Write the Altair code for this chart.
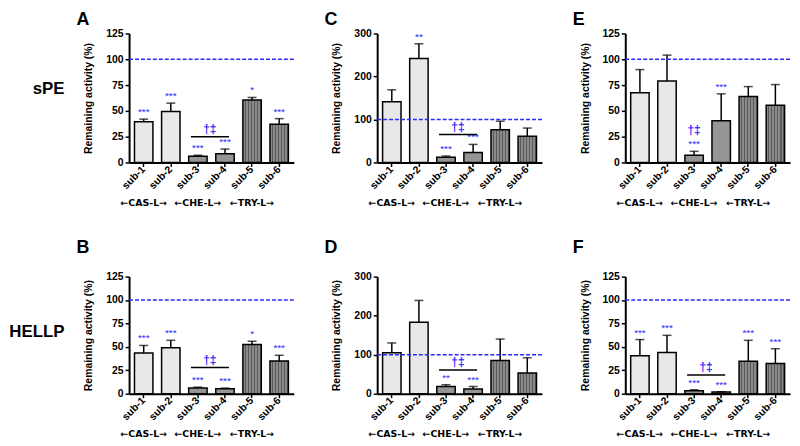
import altair as alt
import pandas as pd

# ---------------- data ----------------
SUBS = ["sub-1", "sub-2", "sub-3", "sub-4", "sub-5", "sub-6"]
GROUP_OF_SUB = ["CAS", "CAS", "CHE", "CHE", "TRY", "TRY"]
GROUP_LABELS = ["←CAS-L→", "←CHE-L→", "←TRY-L→"]
GROUP_ANCHORS = ["sub-1", "sub-3", "sub-5"]

A_MEAN = [39.5, 49.5, 6, 8.5, 60.5, 37]
A_UPPER = [42, 57.5, 7, 13, 63, 42.5]
A_STARS = ["***", "***", "***", "***", "*", "***"]

B_MEAN = [43.5, 49, 6, 5.3, 52.5, 35]
B_UPPER = [51.5, 57, 7, 6, 56, 41]
B_STARS = ["***", "***", "***", "***", "*", "***"]

C_MEAN = [141, 242, 12, 23, 76, 61]
C_UPPER = [169, 276, 15, 42, 96, 80]
C_STARS = ["", "**", "***", "***", "", ""]

D_MEAN = [105, 183, 18.5, 12, 85, 53]
D_UPPER = [130, 239, 23, 18.5, 140, 92]
D_STARS = ["", "", "**", "***", "", ""]

E_MEAN = [67.5, 79, 7, 40.5, 64, 55.5]
E_UPPER = [90, 104, 10.8, 66.5, 73.5, 75.5]
E_STARS = ["", "", "***", "***", "", ""]

F_MEAN = [40.5, 44, 3.2, 1.8, 34.7, 32.2]
F_UPPER = [57.8, 62.3, 4.2, 2.1, 57, 48]
F_STARS = ["***", "***", "***", "***", "***", "***"]

TICKS_125 = [0, 25, 50, 75, 100, 125]
TICKS_300 = [0, 100, 200, 300]
REF_LINE = [100]

BLUE = "#2b2bff"
W = 166
H_TOP = 130
H_BOT = 118

stripe_stops = []
n = 6
for i in range(n):
    stripe_stops += [
        alt.GradientStop(color="#8a8a8a", offset=i / n),
        alt.GradientStop(color="#8a8a8a", offset=(i + 0.55) / n),
        alt.GradientStop(color="#5a5a5a", offset=(i + 0.55) / n),
        alt.GradientStop(color="#5a5a5a", offset=(i + 1) / n),
    ]
STRIPES = alt.LinearGradient(gradient="linear", stops=stripe_stops, x1=0, x2=1, y1=0, y2=0)


def make_panel(letter, rowlabel, mean, upper, stars, ymax, ticks, h,
               bracket=None, dagger_on_bar=False, letter_y=-23):
    df = pd.DataFrame({"sub": SUBS, "mean": mean, "upper": upper,
                       "stars": stars, "grp": GROUP_OF_SUB})
    base = alt.Chart(df)
    xscale = alt.Scale(domain=SUBS, paddingInner=0.32, paddingOuter=0.2)
    x_axis = alt.Axis(title=None, labelAngle=-45, labelAlign="right", labelBaseline="middle")
    y_axis = alt.Axis(title="Remaining activity (%)", values=ticks, format="d", grid=False)
    yscale = alt.Scale(domain=[0, ymax], nice=False, zero=True)

    def X(field):
        return alt.X(field, scale=xscale, axis=x_axis, sort=SUBS)

    def Y(field):
        return alt.Y(field, scale=yscale, axis=y_axis)

    layers = []
    fills = {"CAS": "#e8e8e8", "CHE": "#959595", "TRY": STRIPES}
    for g in ["CAS", "CHE", "TRY"]:
        layers.append(
            base.transform_filter(alt.datum.grp == g)
            .mark_bar(fill=fills[g], stroke="black", strokeWidth=1.5)
            .encode(x=X("sub:N"), y=Y("mean:Q"))
        )

    layers.append(
        base.mark_rule(color="black", strokeWidth=1.5).encode(
            x=X("sub:N"), y=Y("mean:Q"), y2="upper:Q")
    )
    layers.append(
        base.mark_tick(color="black", thickness=1.5, size=9).encode(
            x=X("sub:N"), y=Y("upper:Q"))
    )
    layers.append(
        alt.Chart(pd.DataFrame({"ref": REF_LINE}))
        .mark_rule(color=BLUE, strokeDash=[4, 2], strokeWidth=1.6)
        .encode(y=Y("ref:Q"))
    )
    layers.append(
        base.transform_filter(alt.datum.stars != "")
        .mark_text(color=BLUE, fontSize=10, baseline="alphabetic", dy=-4)
        .encode(x=X("sub:N"), y=Y("upper:Q"), text="stars:N")
    )
    if bracket is not None:
        bdf = pd.DataFrame({"a": ["sub-3"], "b": ["sub-4"], "v": [bracket], "t": ["†‡"]})
        layers.append(
            alt.Chart(bdf).mark_rule(color="black", strokeWidth=1.5, xOffset=-7, x2Offset=4)
            .encode(x=X("a:N"), x2="b:N", y=Y("v:Q"))
        )
        layers.append(
            alt.Chart(bdf).mark_text(color=BLUE, fontSize=12, fontWeight="bold",
                                     baseline="bottom", dy=-1, dx=12)
            .encode(x=X("a:N"), y=Y("v:Q"), text="t:N")
        )
    if dagger_on_bar:
        layers.append(
            base.transform_filter(alt.datum.sub == "sub-3")
            .mark_text(color=BLUE, fontSize=12, fontWeight="bold", baseline="alphabetic", dy=-17)
            .encode(x=X("sub:N"), y=Y("upper:Q"), text=alt.value("†‡"))
        )
    gdf = pd.DataFrame({"sub": GROUP_ANCHORS, "lab": GROUP_LABELS})
    layers.append(
        alt.Chart(gdf).mark_text(fontSize=9.5, fontWeight="bold", baseline="middle",
                                 color="black", font="DejaVu Sans")
        .encode(x=X("sub:N"), y=alt.value(h + 41), text="lab:N")
    )
    layers.append(
        alt.Chart(pd.DataFrame({"t": [letter]}))
        .mark_text(fontSize=18, fontWeight="bold", align="left", baseline="top", color="black")
        .encode(x=alt.value(-53), y=alt.value(letter_y), text="t:N")
    )
    if rowlabel:
        layers.append(
            alt.Chart(pd.DataFrame({"t": [rowlabel]}))
            .mark_text(fontSize=17, fontWeight="bold", align="right", baseline="middle", color="black")
            .encode(x=alt.value(-65), y=alt.value(56), text="t:N")
        )
    return alt.layer(*layers).properties(width=W, height=h)


pA = make_panel("A", "sPE", A_MEAN, A_UPPER, A_STARS, 125, TICKS_125, H_TOP, bracket=25)
pC = make_panel("C", None, C_MEAN, C_UPPER, C_STARS, 300, TICKS_300, H_TOP, bracket=65)
pE = make_panel("E", None, E_MEAN, E_UPPER, E_STARS, 125, TICKS_125, H_TOP, dagger_on_bar=True)
pB = make_panel("B", "HELLP", B_MEAN, B_UPPER, B_STARS, 125, TICKS_125, H_BOT, bracket=28, letter_y=-38)
pD = make_panel("D", None, D_MEAN, D_UPPER, D_STARS, 300, TICKS_300, H_BOT, bracket=61, letter_y=-38)
pF = make_panel("F", None, F_MEAN, F_UPPER, F_STARS, 125, TICKS_125, H_BOT, bracket=20, letter_y=-38)

chart = (
    alt.concat(pA, pC, pE, pB, pD, pF, columns=3,
               spacing={"row": 115, "column": 84}, bounds="flush")
    .properties(padding=0)
    .configure(font="Liberation Sans")
    .configure_view(stroke="transparent")
    .configure_axis(labelFontWeight="bold", labelFontSize=10.5, labelColor="black",
                    domainColor="black", domainWidth=2, tickColor="black",
                    tickWidth=1.5, tickSize=4, labelPadding=2,
                    titleFontSize=10.5, titleFontWeight="bold", titleColor="black",
                    titlePadding=12)
    .configure_axisX(labelAngle=-45, labelPadding=1)
)

chart.save("out.html", embed_options={"renderer": "svg", "actions": False})
